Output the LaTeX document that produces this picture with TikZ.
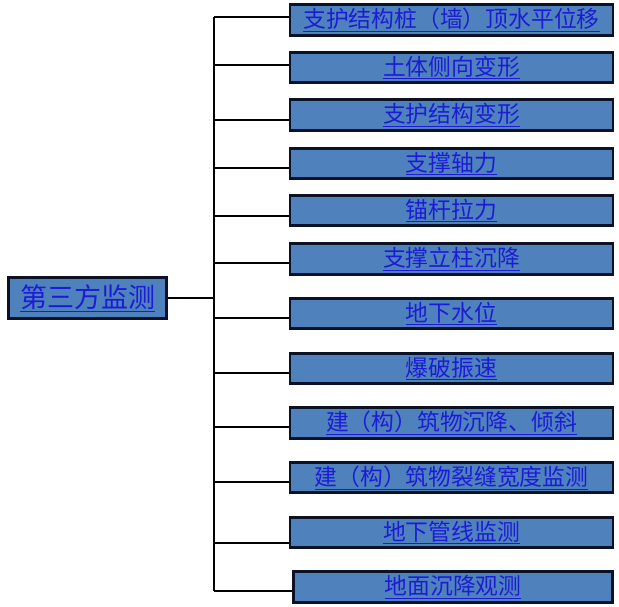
\documentclass[tikz,border=0pt]{standalone}
\usepackage{fontspec}
\newfontfamily\cjk{Noto Sans CJK SC}
\usetikzlibrary{positioning}
\definecolor{boxblue}{RGB}{79,129,189}
\definecolor{linkblue}{RGB}{28,28,215}
\definecolor{edgenavy}{RGB}{12,18,38}

\begin{document}
\begin{tikzpicture}[x=1pt, y=-1pt,
      item/.style={draw=edgenavy, line width=2.6pt, fill=boxblue, minimum width=323pt,
                   minimum height=30.5pt, inner sep=0pt, text=linkblue,
                   font=\cjk\fontsize{22.8}{24}\selectfont},
      root/.style={item, minimum width=158.5pt, minimum height=41.5pt,
                   font=\cjk\fontsize{27}{28}\selectfont},
      wire/.style={line width=2.6pt, black}]
    \useasboundingbox (0,0) rectangle (619,607);
    % monitoring items
    \node[item] (b1)  at (451.5,20)    {\underline{支护结构桩（墙）顶水平位移}};
    \node[item] (b2)  at (451.5,67.5)  {\underline{土体侧向变形}};
    \node[item] (b3)  at (451.5,115)   {\underline{支护结构变形}};
    \node[item] (b4)  at (451.5,163.5) {\underline{支撑轴力}};
    \node[item] (b5)  at (451.5,210.5) {\underline{锚杆拉力}};
    \node[item] (b6)  at (451.5,259)   {\underline{支撑立柱沉降}};
    \node[item] (b7)  at (451.5,313.5) {\underline{地下水位}};
    \node[item] (b8)  at (451.5,368.5) {\underline{爆破振速}};
    \node[item] (b9)  at (451.5,423)   {\underline{建（构）筑物沉降、倾斜}};
    \node[item] (b10) at (451.5,477.5) {\underline{建（构）筑物裂缝宽度监测}};
    \node[item] (b11) at (451.5,532.5) {\underline{地下管线监测}};
    \node[item, minimum width=319pt] (b12) at (453,587) {\underline{地面沉降观测}};
    % root
    \node[root] (top) at (87.5,298) {\underline{第三方监测}};
    % tree lines
    \foreach \i/\y in {1/17, 2/65, 3/120, 4/168, 5/216, 6/263, 7/318, 8/373,
                       9/427, 10/482, 11/543, 12/591} {
      \coordinate (j\i) at (214,\y);
      \draw[wire] (j\i) -- (j\i -| b\i.west);
    }
    \draw[wire] (j1) -- (j12);
    \draw[wire] (top.east) -- (top.east -| j1);
  \end{tikzpicture}
\end{document}
